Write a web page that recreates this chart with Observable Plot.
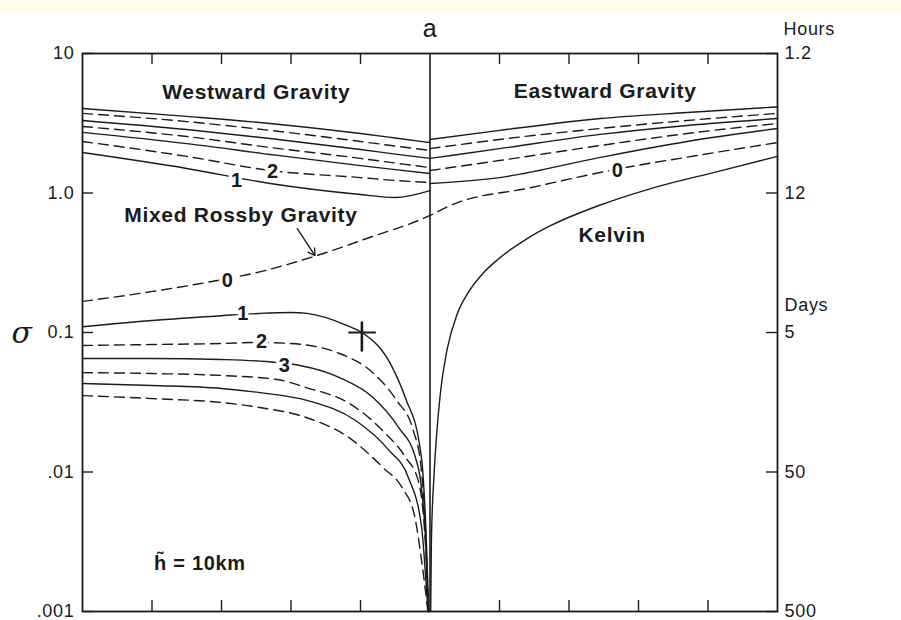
<!DOCTYPE html>
<html><head><meta charset="utf-8">
<script src="https://cdn.jsdelivr.net/npm/d3@7"></script>
<script src="https://cdn.jsdelivr.net/npm/@observablehq/plot@0.6"></script>
<style>
html,body{margin:0;padding:0;background:#fff;}
#chart svg text{letter-spacing:0.7px;}
</style></head><body><div id="chart"></div>
<script>
// ---- axis ticks ----
const yTicks = [0.001, 0.01, 0.1, 1, 10];
const yLeftLabels = [".001", ".01", "0.1", "1.0", "10"];
const yRightLabels = ["500", "50", "5", "12", "1.2"];
const xTicks = [-4, -3, -2, -1, 1, 2, 3, 4];

// ---- westward gravity waves n = 1..7 ----
const westK = [-5, -3.5, -2.3, -1, -0.5, 0];
const westSigma = [
  [1.95, 1.50, 1.17, 0.975, 0.928, 1.04],
  [2.34, 1.83, 1.45, 1.29, 1.23, 1.19],
  [2.72, 2.26, 1.89, 1.57, 1.47, 1.38],
  [3.00, 2.54, 2.12, 1.77, 1.64, 1.52],
  [3.31, 2.85, 2.46, 2.05, 1.90, 1.77],
  [3.72, 3.25, 2.81, 2.34, 2.17, 2.02],
  [4.03, 3.54, 3.15, 2.67, 2.48, 2.30]
];

// ---- eastward gravity waves ----
const eastK = [0, 1, 2.45, 3.7, 5];
const eastSigma = [
  [1.17, 1.29, 1.80, 2.34, 2.90],
  [1.45, 1.71, 2.19, 2.67, 3.15],
  [1.77, 2.08, 2.63, 3.05, 3.42],
  [2.08, 2.42, 2.90, 3.31, 3.72],
  [2.42, 2.81, 3.42, 3.78, 4.14]
];

// ---- mixed Rossby-gravity (n = 0) ----
const mrgK = [-5, -3.99, -3.06, -2.55, -1.63, -0.91, 0, 0.29, 1.44, 2.59, 3.88, 5];
const mrgSigma = [0.167, 0.197, 0.236, 0.265, 0.356, 0.472, 0.690, 0.814, 1.09, 1.45, 1.87, 2.30];

// ---- Kelvin ----
const kelvinK = [0.01, 0.02, 0.06, 0.10, 0.15, 0.245, 0.39, 0.54, 0.76, 0.98, 1.41, 1.74, 2.42, 3.19, 4.15, 5];
const kelvinSigma = [0.001, 0.0032, 0.0099, 0.0198, 0.037, 0.075, 0.135, 0.19, 0.265, 0.335, 0.475, 0.585, 0.81, 1.08, 1.43, 1.83];

// ---- Rossby waves n = 1..6 ----
const rossbyK = [
  [-5, -4, -3, -2.45, -2, -1.77, -1.19, -0.98, -0.58, -0.34, -0.16, -0.10, -0.05, -0.02],
  [-5, -4, -3, -2.49, -2.01, -1.30, -0.81, -0.48, -0.24, -0.13, -0.055, -0.022],
  [-5, -4, -3, -2.21, -1.87, -1.30, -0.82, -0.45, -0.21, -0.14, -0.06, -0.024],
  [-5, -4, -3, -2.2, -1.78, -1.16, -0.68, -0.35, -0.17, -0.065, -0.026],
  [-5, -4, -3, -2.45, -1.77, -1.07, -0.59, -0.31, -0.12, -0.07, -0.028],
  [-5, -4, -3, -2.45, -1.78, -1.17, -0.68, -0.40, -0.22, -0.12, -0.03]
];
const rossbySigma = [
  [0.110, 0.122, 0.132, 0.137, 0.139, 0.137, 0.112, 0.100, 0.061, 0.0326, 0.0168, 0.0095, 0.003, 0.001],
  [0.0807, 0.082, 0.0834, 0.0848, 0.0834, 0.0707, 0.0508, 0.0326, 0.0198, 0.011, 0.003, 0.001],
  [0.0651, 0.0651, 0.064, 0.061, 0.058, 0.0475, 0.0342, 0.0208, 0.0127, 0.009, 0.003, 0.001],
  [0.0516, 0.0508, 0.0492, 0.046, 0.0403, 0.031, 0.0198, 0.0127, 0.0087, 0.003, 0.001],
  [0.0431, 0.0417, 0.0397, 0.0371, 0.0326, 0.0234, 0.0143, 0.0091, 0.004, 0.002, 0.001],
  [0.0353, 0.0336, 0.0315, 0.029, 0.0246, 0.0177, 0.0108, 0.0077, 0.0048, 0.0023, 0.001]
];

// ---- text annotations ----
const regionText = ["Westward Gravity", "Eastward Gravity", "Mixed Rossby Gravity", "Kelvin"];
const regionK = [-2.50, 2.52, -2.72, 2.62];
const regionSigma = [5.25, 5.34, 0.690, 0.496];

const numText = ["1", "2", "0", "0", "1", "2", "3"];
const numK = [-2.78, -2.26, 2.70, -2.91, -2.69, -2.42, -2.09];
const numSigma = [1.23, 1.43, 1.45, 0.236, 0.137, 0.0862, 0.058];

const arrowFrom = {k: -1.91, s: 0.556};
const arrowTo = {k: -1.655, s: 0.356};
const crossV = [{k: -0.98, s: 0.118}, {k: -0.98, s: 0.0743}];
const crossH = [{k: -1.165, s: 0.100}, {k: -0.79, s: 0.100}];

// ---- build table ----
const rows = [];
function pushCurve(id, ks, ss, dashed) {
  ks.forEach((k, i) => rows.push({id, k, s: ss[i], dashed}));
}
westSigma.forEach((ss, i) => pushCurve("W" + (i + 1), westK, ss, (i + 1) % 2 === 0));
eastSigma.forEach((ss, i) => pushCurve("E" + (i + 1), eastK, ss, (i + 1) % 2 === 0));
rossbySigma.forEach((ss, i) => pushCurve("R" + (i + 1), rossbyK[i], ss, (i + 1) % 2 === 0));
pushCurve("MRG", mrgK, mrgSigma, true);
pushCurve("K", kelvinK, kelvinSigma, false);

const regions = regionText.map((t, i) => ({t, k: regionK[i], s: regionSigma[i]}));
const nums = numText.map((t, i) => ({t, k: numK[i], s: numSigma[i]}));

const ink = "#1b1b1b";
const leftFmt = d => yLeftLabels[yTicks.indexOf(d)];
const rightFmt = d => yRightLabels[yTicks.indexOf(d)];

const plot = Plot.plot({
  width: 901, height: 620,
  marginTop: 53, marginBottom: 9, marginLeft: 82, marginRight: 124,
  style: {fontFamily: "'Liberation Sans', Arial, sans-serif", background: "linear-gradient(#fffde6 0 11px, #ffffff 11px)", color: ink},
  x: {domain: [-5, 5]},
  y: {type: "log", domain: [0.001, 10]},
  marks: [
    Plot.frame({stroke: ink, strokeWidth: 1.8}),
    Plot.ruleX([0], {stroke: ink, strokeWidth: 1.6}),
    Plot.axisX({anchor: "top", ticks: xTicks, tickSize: -10, tickFormat: () => "", label: null, stroke: ink, strokeWidth: 1.4}),
    Plot.axisX({anchor: "bottom", ticks: xTicks, tickSize: -11, tickFormat: () => "", label: null, stroke: ink, strokeWidth: 1.4}),
    Plot.axisY({anchor: "left", ticks: yTicks, tickFormat: leftFmt, tickSize: -11, tickPadding: 19, label: null, fontSize: 18, stroke: ink, strokeWidth: 1.4}),
    Plot.axisY({anchor: "right", ticks: yTicks, tickFormat: rightFmt, tickSize: -12, tickPadding: 19, label: null, fontSize: 18, stroke: ink, strokeWidth: 1.4}),
    Plot.line(rows.filter(d => !d.dashed), {x: "k", y: "s", z: "id", curve: "monotone-x", stroke: ink, strokeWidth: 1.4}),
    Plot.line(rows.filter(d => d.dashed), {x: "k", y: "s", z: "id", curve: "monotone-x", stroke: ink, strokeWidth: 1.4, strokeDasharray: "10,6"}),
    Plot.text(nums, {x: "k", y: "s", text: "t", fontSize: 20, fontWeight: "bold", fill: ink, stroke: "white", strokeWidth: 7}),
    Plot.text(regions, {x: "k", y: "s", text: "t", fontSize: 21, fontWeight: "bold", fill: ink}),
    Plot.text(["h\u0303 = 10km"], {x: -3.31, y: 0.00221, fontSize: 20, fontWeight: "bold", fill: ink}),
    Plot.arrow([{a: arrowFrom, b: arrowTo}], {x1: d => d.a.k, y1: d => d.a.s, x2: d => d.b.k, y2: d => d.b.s, stroke: ink, strokeWidth: 1.3, headLength: 9}),
    Plot.line(crossV, {x: "k", y: "s", stroke: ink, strokeWidth: 2.6}),
    Plot.line(crossH, {x: "k", y: "s", stroke: ink, strokeWidth: 1.8}),
    Plot.text(["a"], {x: 0, y: 15.1, fontSize: 25, fill: ink}),
    Plot.text(["Hours"], {x: 5, y: 14.9, dx: 6, textAnchor: "start", fontSize: 18, fill: ink}),
    Plot.text(["Days"], {x: 5, y: 0.156, dx: 7, textAnchor: "start", fontSize: 18, fill: ink}),
    Plot.text(["\u03c3"], {x: -5.87, y: 0.0984, fontSize: 30, fontStyle: "italic", fontFamily: "'DejaVu Serif', 'Liberation Serif', serif", fill: ink})
  ]
});
document.getElementById("chart").appendChild(plot);
</script>
</body></html>
